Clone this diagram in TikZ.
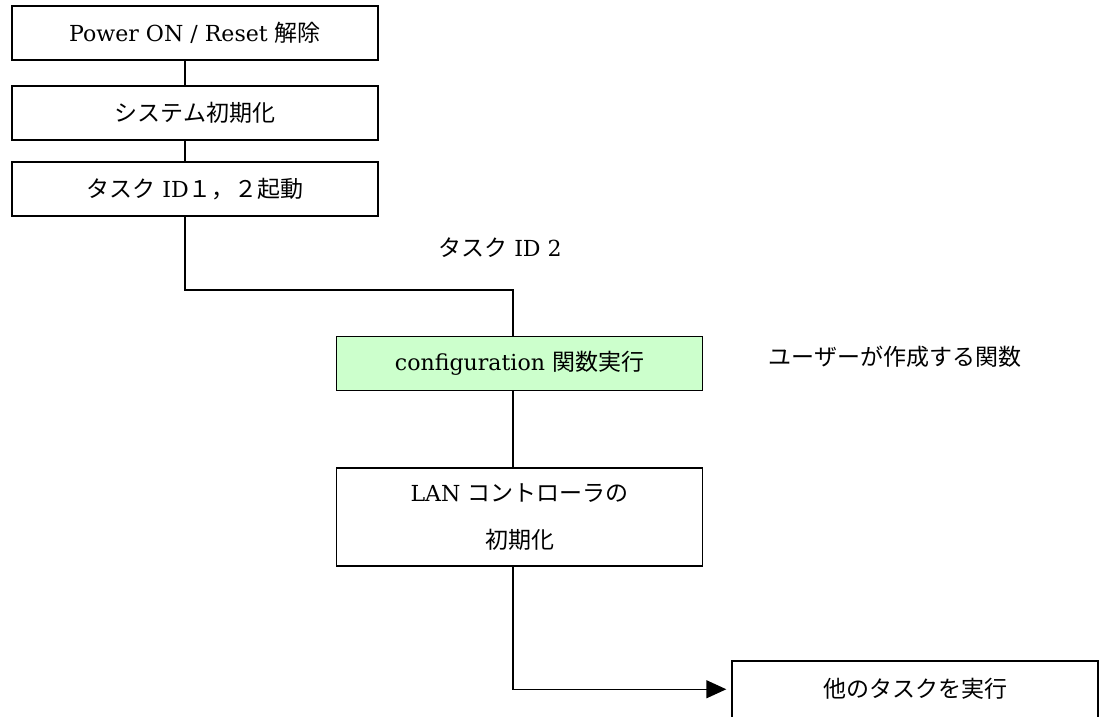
\documentclass[tikz,border=0pt]{standalone}
\usepackage{fontspec}
\setmainfont{DejaVu Serif}[Scale=0.96]
\newfontfamily\jp{Noto Sans CJK JP}
\usetikzlibrary{arrows.meta}
\definecolor{cfggreen}{HTML}{CCFFCC}
\tikzset{
  x=1pt, y=-1pt,
  flowbox/.style={draw=black, line width=1.4pt, minimum width=366pt, minimum height=54pt, inner sep=0pt, font=\fontsize{23}{28}\selectfont},
  conn/.style={line width=1.4pt},
  lbl/.style={inner sep=0pt, font=\fontsize{23}{28}\selectfont},
}
\begin{document}
\begin{tikzpicture}
\clip (0,0) rectangle (1107,716);
\fill[white] (0,0) rectangle (1107,716);
\node[flowbox] (b1) at (195,33) {Power ON / Reset {\jp 解除}};
\node[flowbox] (b2) at (195,113) {{\jp システム初期化}};
\node[flowbox] (b3) at (195,189) {{\jp タスク} ID{\jp １，２起動}};
\node[flowbox, fill=cfggreen] (cfg) at (519.5,363.5) {configuration {\jp 関数実行}};
\node[flowbox, minimum height=98pt, align=center, font=\fontsize{23}{47}\selectfont] (lan) at (519.5,517) {LAN {\jp コントローラの}\\{\jp 初期化}};
\node[flowbox, minimum height=56.5pt] (oth) at (915,689.25) {{\jp 他のタスクを実行}};
\node[lbl] (t2) at (500,248) {{\jp タスク} ID 2};
\node[lbl] (usr) at (895,357) {{\jp ユーザーが作成する関数}};
\coordinate (l1) at (185,0);
\coordinate (j1) at (513,290);
\draw[conn] (b1.south -| l1) -- (b2.north -| l1);
\draw[conn] (b2.south -| l1) -- (b3.north -| l1);
\draw[conn] (b3.south -| l1) |- (j1) -- (j1 |- cfg.north);
\draw[conn] (cfg.south -| j1) -- (lan.north -| j1);
\draw[conn, -{Triangle[length=20pt,width=18pt]}, shorten >=5pt] (lan.south -| j1) |- (oth.west);
\end{tikzpicture}
\end{document}
